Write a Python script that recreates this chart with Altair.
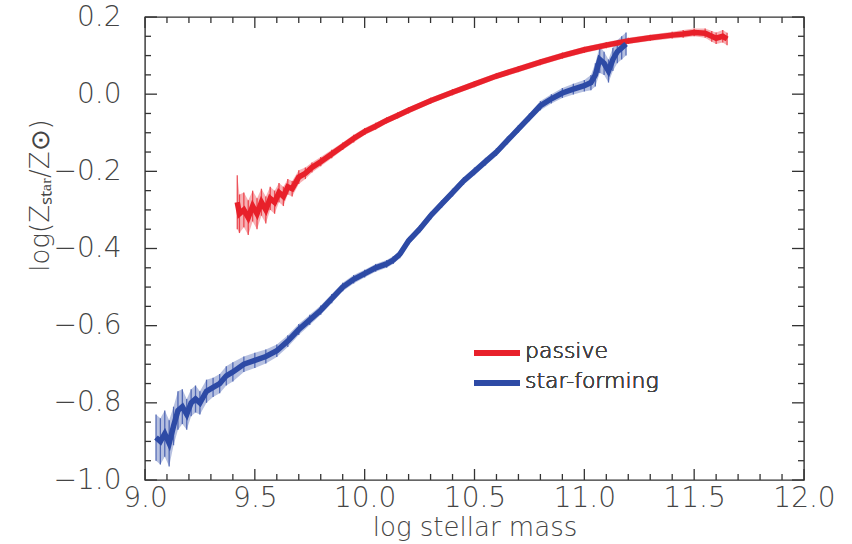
import altair as alt
import pandas as pd

# ---------------- data ----------------
passive_mass = [9.42, 9.43, 9.45, 9.47, 9.49, 9.51, 9.53, 9.55, 9.57, 9.59,
                9.61, 9.63, 9.65, 9.67, 9.70, 9.73, 9.76, 9.80, 9.85, 9.90,
                9.95, 10.00, 10.05, 10.10, 10.15, 10.20, 10.30, 10.40, 10.50, 10.60,
                10.70, 10.80, 10.90, 11.00, 11.10, 11.20, 11.30, 11.40, 11.45, 11.50,
                11.55, 11.58, 11.60, 11.63, 11.65]
passive_z = [-0.28, -0.31, -0.30, -0.32, -0.29, -0.31, -0.28, -0.30, -0.27, -0.28,
             -0.255, -0.265, -0.24, -0.245, -0.215, -0.205, -0.19, -0.175, -0.155, -0.135,
             -0.115, -0.097, -0.083, -0.068, -0.055, -0.042, -0.017, 0.005, 0.026, 0.047,
             0.065, 0.083, 0.100, 0.115, 0.127, 0.138, 0.146, 0.153, 0.156, 0.160,
             0.158, 0.150, 0.145, 0.150, 0.143]
passive_err = [0.07, 0.05, 0.045, 0.045, 0.04, 0.04, 0.035, 0.035, 0.03, 0.03,
               0.025, 0.025, 0.02, 0.02, 0.018, 0.015, 0.013, 0.012, 0.011, 0.010,
               0.010, 0.009, 0.009, 0.008, 0.008, 0.008, 0.008, 0.008, 0.008, 0.008,
               0.008, 0.008, 0.008, 0.008, 0.008, 0.008, 0.008, 0.009, 0.010, 0.010,
               0.012, 0.014, 0.015, 0.016, 0.016]

sf_mass = [9.05, 9.07, 9.09, 9.11, 9.13, 9.15, 9.17, 9.19, 9.21, 9.23,
           9.25, 9.28, 9.31, 9.34, 9.37, 9.40, 9.45, 9.50, 9.55, 9.60,
           9.65, 9.70, 9.75, 9.80, 9.85, 9.90, 9.95, 10.00, 10.05, 10.10,
           10.13, 10.16, 10.20, 10.25, 10.30, 10.35, 10.40, 10.45, 10.50, 10.55,
           10.60, 10.65, 10.70, 10.75, 10.80, 10.85, 10.90, 10.95, 11.00, 11.03,
           11.05, 11.07, 11.09, 11.11, 11.13, 11.15, 11.17, 11.19]
sf_z = [-0.89, -0.90, -0.88, -0.905, -0.86, -0.82, -0.81, -0.83, -0.80, -0.79,
        -0.80, -0.77, -0.76, -0.75, -0.73, -0.72, -0.70, -0.69, -0.68, -0.665,
        -0.64, -0.61, -0.585, -0.56, -0.53, -0.50, -0.48, -0.465, -0.45, -0.44,
        -0.43, -0.415, -0.38, -0.35, -0.315, -0.285, -0.255, -0.225, -0.200, -0.175,
        -0.150, -0.120, -0.090, -0.060, -0.030, -0.012, 0.003, 0.013, 0.022, 0.030,
        0.050, 0.090, 0.080, 0.060, 0.090, 0.110, 0.120, 0.130]
sf_err = [0.06, 0.06, 0.06, 0.06, 0.05, 0.05, 0.045, 0.04, 0.035, 0.035,
          0.03, 0.03, 0.025, 0.025, 0.025, 0.025, 0.02, 0.02, 0.018, 0.016,
          0.015, 0.014, 0.013, 0.012, 0.012, 0.011, 0.011, 0.010, 0.010, 0.010,
          0.010, 0.010, 0.010, 0.010, 0.010, 0.010, 0.010, 0.010, 0.010, 0.010,
          0.010, 0.010, 0.010, 0.010, 0.012, 0.012, 0.013, 0.014, 0.015, 0.020,
          0.030, 0.035, 0.030, 0.030, 0.030, 0.030, 0.030, 0.030]

series_names = ["passive", "star-forming"]
series_colors = ["#e8202a", "#2d4aa5"]

x_major = [9.0, 9.5, 10.0, 10.5, 11.0, 11.5, 12.0]
y_major = [-1.0, -0.8, -0.6, -0.4, -0.2, 0.0, 0.2]
x_minor = [round(9.0 + 0.1 * i, 2) for i in range(31) if i % 5 != 0]
y_minor = [round(-1.0 + 0.05 * i, 3) for i in range(25) if i % 4 != 0]

# ---------------- tables ----------------
rows = []
for name, m, z, e in [("passive", passive_mass, passive_z, passive_err),
                      ("star-forming", sf_mass, sf_z, sf_err)]:
    for a, b, c in zip(m, z, e):
        rows.append({"series": name, "mass": a, "z": b, "lo": b - c, "hi": b + c})
df = pd.DataFrame(rows)

W, H = 659, 463
FONT = "DejaVu Sans"
WEIGHT = 200
TXT = "#444444"

xs = alt.Scale(domain=[9.0, 12.0], nice=False, zero=False)
ys = alt.Scale(domain=[-1.0, 0.2], nice=False, zero=False)
cs = alt.Scale(domain=series_names, range=series_colors)

xaxis = alt.Axis(values=x_major, format=".1f", ticks=False, domain=False, grid=False,
                 labelFlush=False, title="log stellar mass", labelPadding=4, titlePadding=2)
yaxis = alt.Axis(values=y_major, format=".1f", ticks=False, domain=False, grid=False,
                 labelFlush=False, title="log(Zₛₜₐᵣ/Z⊙)", labelPadding=24, titlePadding=16)

X = alt.X("mass:Q", scale=xs, axis=xaxis)
Y = alt.Y("z:Q", scale=ys, axis=yaxis)

base = alt.Chart(df)
band = base.mark_area(opacity=0.35).encode(
    x=X, y=alt.Y("lo:Q", scale=ys, axis=yaxis), y2="hi:Q",
    color=alt.Color("series:N", scale=cs, legend=None))
bars = base.mark_rule(strokeWidth=1.3, opacity=0.75).encode(
    x=X, y=alt.Y("lo:Q", scale=ys, axis=yaxis), y2="hi:Q",
    color=alt.Color("series:N", scale=cs, legend=None))
lines = base.mark_line(strokeWidth=5.5).encode(
    x=X, y=Y, color=alt.Color("series:N", scale=cs, legend=None))

xmaj = pd.DataFrame({"mass": x_major})
xmin = pd.DataFrame({"mass": x_minor})
ymaj = pd.DataFrame({"z": y_major})
ymin = pd.DataFrame({"z": y_minor})

TICK = dict(color="#333333", strokeWidth=1.3)
ticks = [
    alt.Chart(xmaj).mark_rule(**TICK).encode(x=X, y=alt.value(H), y2=alt.value(H - 11)),
    alt.Chart(xmaj).mark_rule(**TICK).encode(x=X, y=alt.value(0), y2=alt.value(11)),
    alt.Chart(xmin).mark_rule(**TICK).encode(x=X, y=alt.value(H), y2=alt.value(H - 6)),
    alt.Chart(xmin).mark_rule(**TICK).encode(x=X, y=alt.value(0), y2=alt.value(6)),
    alt.Chart(ymaj).mark_rule(**TICK).encode(y=Y, x=alt.value(0), x2=alt.value(12)),
    alt.Chart(ymaj).mark_rule(**TICK).encode(y=Y, x=alt.value(W), x2=alt.value(W - 12)),
    alt.Chart(ymin).mark_rule(**TICK).encode(y=Y, x=alt.value(0), x2=alt.value(6)),
    alt.Chart(ymin).mark_rule(**TICK).encode(y=Y, x=alt.value(W), x2=alt.value(W - 6)),
]

# legend (drawn in the plot area)
leg = []
for i, (name, col) in enumerate(zip(series_names, series_colors)):
    yy = 336 + 30 * i
    leg.append(alt.Chart(xmaj).mark_rule(color=col, strokeWidth=5).encode(
        x=alt.value(329), x2=alt.value(375), y=alt.value(yy)))
    leg.append(alt.Chart(xmaj).mark_text(text=name, align="left", baseline="middle",
                                         font=FONT, fontWeight=300, fontSize=22,
                                         color=TXT).encode(
        x=alt.value(380), y=alt.value(yy - 2)))

chart = alt.layer(band, bars, lines, *ticks, *leg).properties(
    width=W, height=H,
    padding={"left": 145, "top": 17, "right": 48, "bottom": 64},
    autosize=alt.AutoSizeParams(type="none"),
).configure_view(
    stroke="#333333", strokeWidth=1.4
).configure_axis(
    labelFont=FONT, titleFont=FONT, labelColor=TXT, titleColor=TXT,
    labelFontSize=28, titleFontSize=26, labelFontWeight=WEIGHT, titleFontWeight=WEIGHT,
).configure_axisY(
    titleAngle=270, titleY=178, titleX=-105, titleBaseline="middle", titleAlign="center"
)

chart.save("out.html", embed_options={"renderer": "svg", "actions": False})
